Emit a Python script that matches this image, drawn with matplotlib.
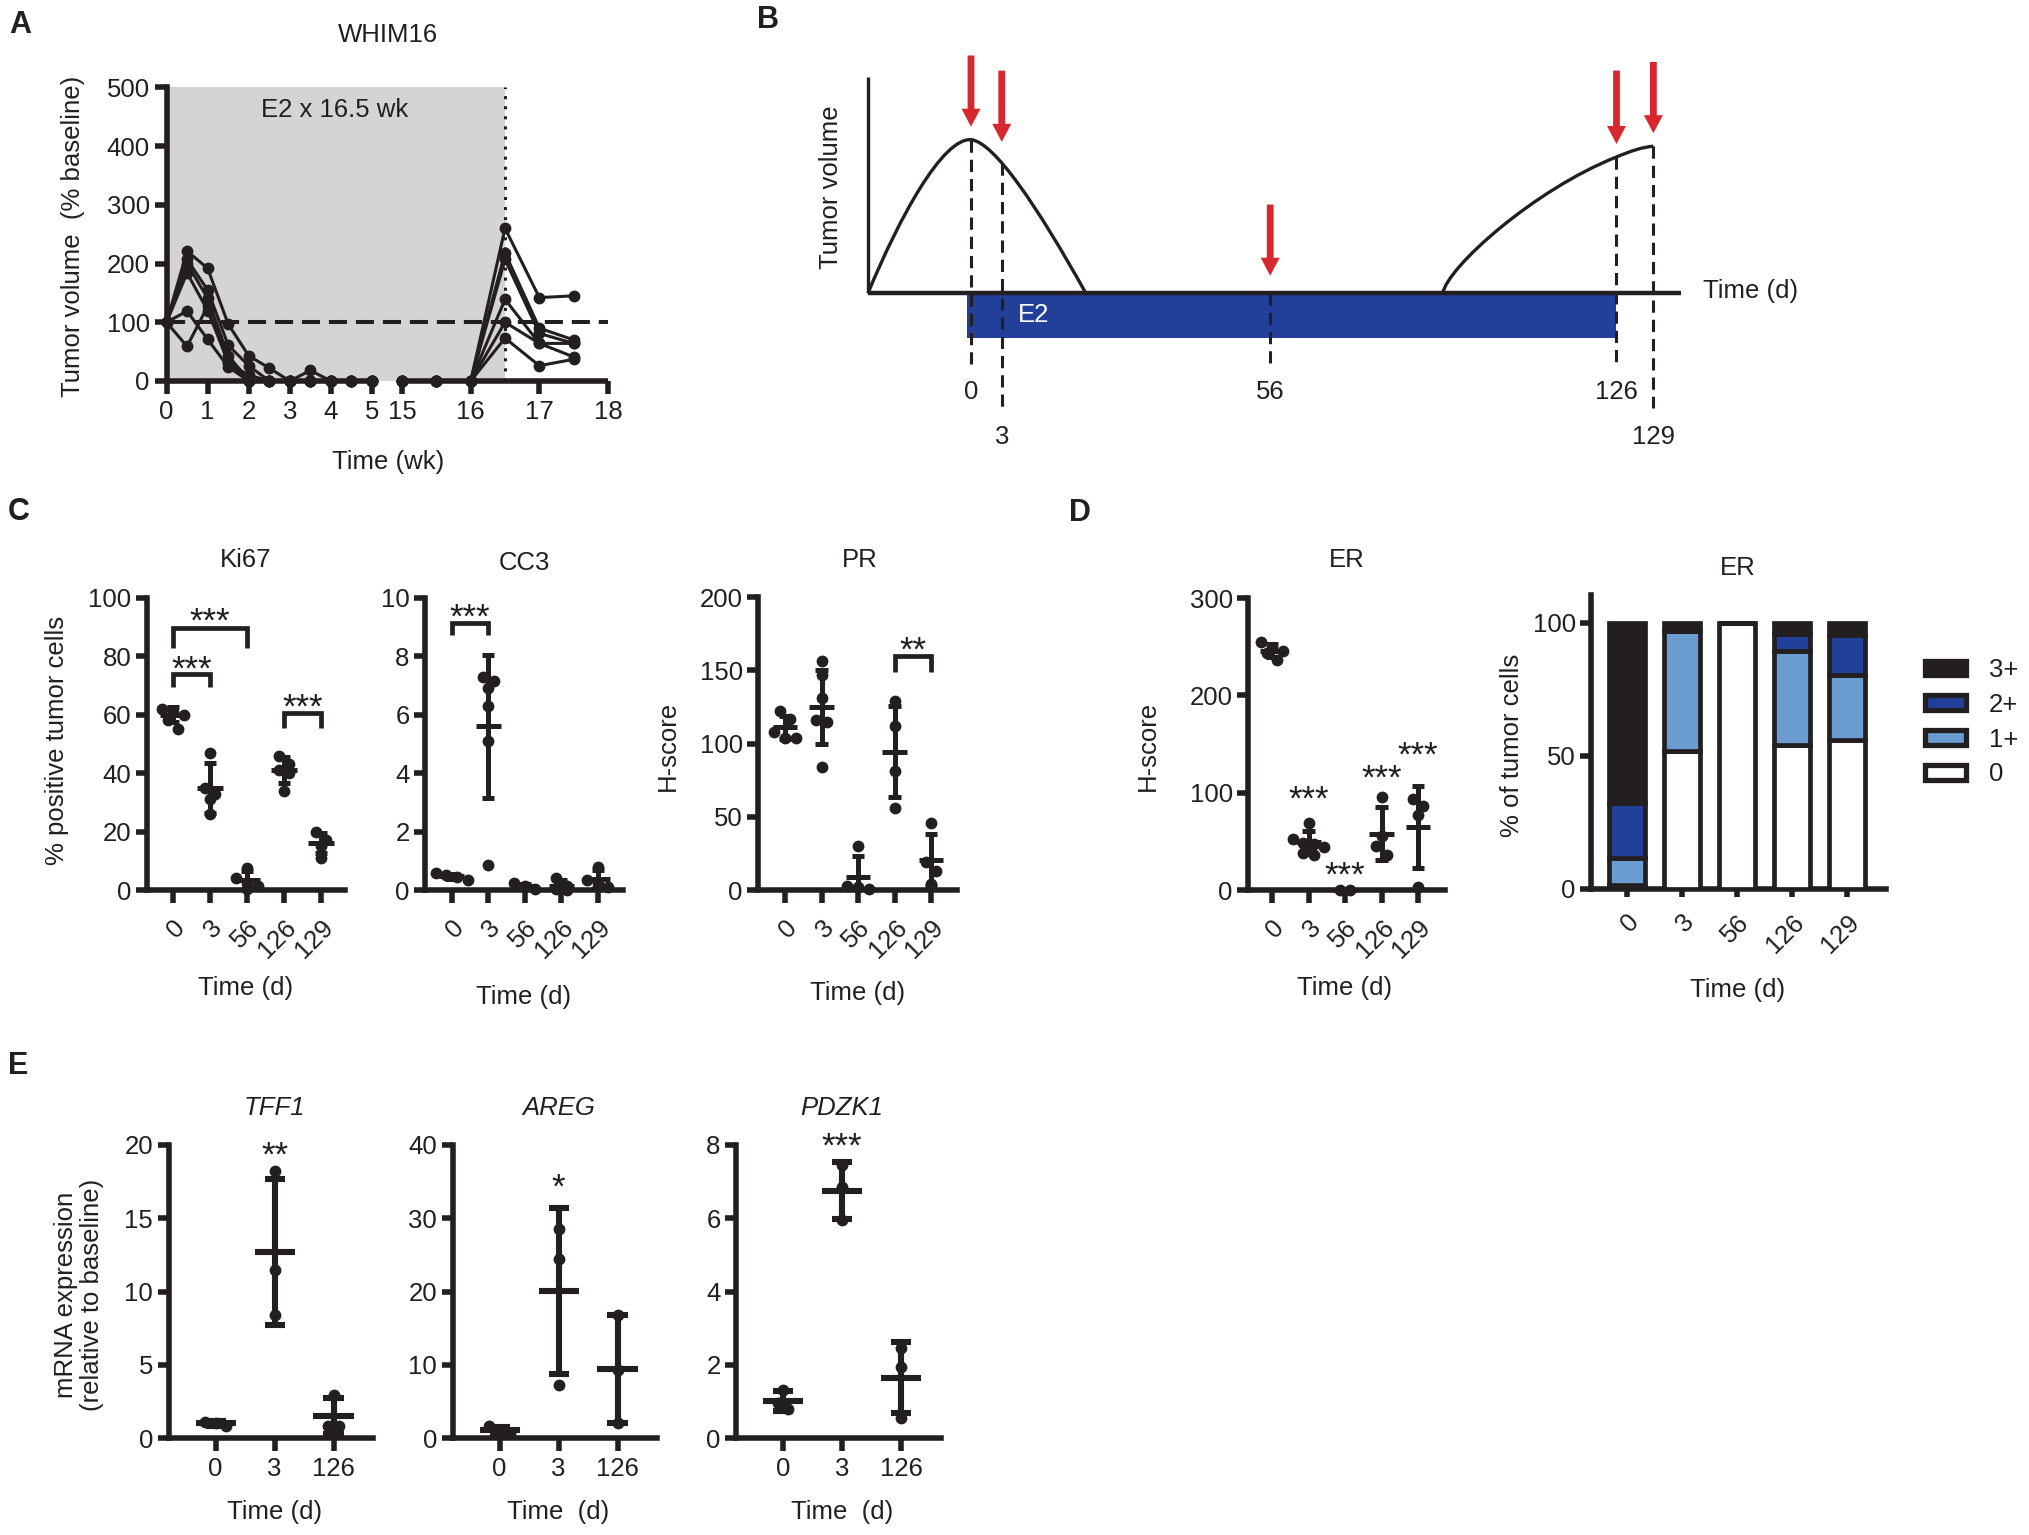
import numpy as np
import matplotlib
matplotlib.use('Agg')
import matplotlib.pyplot as plt
from matplotlib.path import Path
from matplotlib.patches import PathPatch, Patch
from matplotlib.transforms import offset_copy

# ---------------------------------------------------------------- data
# A: tumour volume (% of baseline) for each WHIM16 mouse
a_wk_early = [0, 0.5, 1, 1.5, 2, 2.5, 3, 3.5, 4, 4.5, 5]
a_wk_late = [15, 15.5, 16, 16.5, 17, 17.5]
a_vol_early = [
    [100, 221, 192, 97, 43, 22, 0, 18, 0, 0, 0],
    [100, 207, 155, 61, 26, 0, 0, 0, 0, 0, 0],
    [100, 200, 141, 43, 2, 0, 0, 0, 0, 0, 0],
    [100, 184, 120, 33, 0, 0, 0, 0, 0, 0, 0],
    [100, 119, 71, 24, 0, 0, 0, 0, 0, 0, 0],
    [100, 59, 127, 30, 10, 0, 0, 0, 0, 0, 0],
]
a_vol_late = [
    [0, 0, 0, 260, 142, 145],
    [0, 0, 0, 218, 90, 70],
    [0, 0, 0, 207, 81, 64],
    [0, 0, 0, 139, 64, 41],
    [0, 0, 0, 100, 64, 64],
    [0, 0, 0, 73, 26, 37],
]
a_xticks = [0, 1, 2, 3, 4, 5, 15, 16, 17, 18]

# B: schematic of the biopsy schedule
b_days = [0, 3, 56, 126, 129]
b_pos = [0, 6, 58.4, 126, 133.2]          # place of each biopsy on the drawn time axis
b_row = [0, 1, 0, 0, 1]                   # label row (staggered)
b_line_top = [0.71, 0.60, 0.0, 0.63, 0.68]
b_arrow_top = [1.10, 1.03, 0.41, 1.03, 1.07]
b_arrow_tip = [0.77, 0.70, 0.08, 0.69, 0.74]
b_e2 = (-0.7, 126)
b_hump1 = [(-20.1, 0), (-14, 0.35), (-5.5, 0.72), (0, 0.71), (4.5, 0.70), (13, 0.40), (22.4, 0)]
b_hump2 = [(92.1, 0), (93, 0.12), (110, 0.48), (126, 0.63), (129, 0.66), (131, 0.675), (133.2, 0.68)]

# C / D: IHC scores per tumour
days = ['0', '3', '56', '126', '129']
ki67_pts = [[62, 61, 60, 58, 55], [47, 35, 33, 31, 26], [7.5, 4, 2.5, 1.5, 0.5],
            [46, 43, 41, 40, 34], [20, 17, 15, 11]]
ki67_mean = [60, 35, 3.5, 41, 16]
ki67_sd = [2.5, 8.5, 3, 4.5, 3.5]
ki67_brackets = [(0, 1, 73.9, 69.3, 77.3, '***'), (0, 2, 89.7, 82.9, 93.7, '***'),
                 (3, 4, 60.4, 55.3, 64.4, '***')]

cc3_pts = [[0.57, 0.5, 0.45, 0.35], [7.3, 7.15, 6.9, 6.3, 5.1, 0.85], [0.23, 0.12, 0.05],
           [0.4, 0.15, 0.05, 0.0], [0.8, 0.35, 0.25, 0.1]]
cc3_mean = [0.47, 5.6, 0.13, 0.15, 0.38]
cc3_sd = [0.09, 2.45, 0.09, 0.18, 0.3]
cc3_brackets = [(0, 1, 9.12, 8.72, 9.52, '***')]

pr_pts = [[122, 117, 108, 104, 104], [156, 147, 131, 116, 115, 84], [30, 3, 2, 1],
          [129, 112, 81, 56], [46, 19, 13, 4]]
pr_mean = [111, 125, 9, 94.5, 20.5]
pr_sd = [8, 25, 14, 31, 18]
pr_brackets = [(3, 4, 159.5, 149, 167.5, '**')]

er_pts = [[255, 249, 246, 244, 236], [69, 52, 48, 47, 44, 38, 36], [0, 0],
          [96, 55, 45, 36], [94, 86, 77, 3]]
er_mean = [246, 49, 0, 58, 65]
er_sd = [7, 12, 0, 27, 42]
er_stars = [(1, 99, '***'), (2, 20.5, '***'), (3, 120, '***'), (4, 144, '***')]

er_levels = ['0', '1+', '2+', '3+']
er_pct = {'0': [1.5, 52, 100, 54, 56],
          '1+': [10, 45, 0, 35.5, 24.5],
          '2+': [21, 0, 0, 6.5, 15],
          '3+': [67.5, 3, 0, 4, 4.5]}

# E: qPCR, relative to baseline
e_days = ['0', '3', '126']
tff1_pts = [[0.8, 1.1, 1.05], [18.2, 11.5, 8.4], [2.95, 0.8, 0.8]]
tff1_mean = [1.0, 12.7, 1.5]
tff1_sd = [0.15, 5.0, 1.2]
areg_pts = [[0.7, 1.6, 1.1], [28.6, 24.5, 7.3], [16.8, 9.3, 2.0]]
areg_mean = [1.1, 20.1, 9.4]
areg_sd = [0.45, 11.3, 7.4]
pdzk1_pts = [[1.32, 0.95, 0.78], [7.45, 6.85, 5.95], [2.45, 1.95, 0.55]]
pdzk1_mean = [1.02, 6.75, 1.65]
pdzk1_sd = [0.27, 0.78, 0.98]

# ---------------------------------------------------------------- style
W, H, DPI = 2029, 1535, 100
INK = '#231f20'
RED = '#d7282f'
BLUE = '#22409a'
LIGHT = '#6a9bd1'
FS = 18.5
STAR_FS = 25
SPINE = 4.0

plt.rcParams['font.family'] = ['Liberation Sans', 'DejaVu Sans']
plt.rcParams.update({'font.size': FS, 'text.color': INK, 'axes.edgecolor': INK,
                     'xtick.color': INK, 'ytick.color': INK, 'axes.linewidth': SPINE})

fig = plt.figure(figsize=(W / DPI, H / DPI), dpi=DPI)


def px_axes(x0, y0, x1, y1):
    return fig.add_axes([x0 / W, 1 - y1 / H, (x1 - x0) / W, (y1 - y0) / H])


def px_text(x, y, s, **kw):
    kw.setdefault('ha', 'center')
    kw.setdefault('va', 'center')
    kw.setdefault('fontsize', FS)
    fig.text(x / W, 1 - y / H, s, **kw)


def prism_axes(box, xlim, ylim, yticks, xlabels, rotate=True, xlen=9):
    ax = px_axes(*box)
    ax.set_xlim(xlim)
    ax.set_ylim(ylim)
    ax.spines[['top', 'right']].set_visible(False)
    ax.set_yticks(yticks)
    ax.set_xticks(range(len(xlabels)))
    ax.tick_params(axis='y', direction='out', length=8, width=SPINE, pad=3, labelsize=FS)
    ax.tick_params(axis='x', direction='out', length=xlen, width=SPINE, labelsize=FS,
                   pad=9 if rotate else 5)
    if rotate:
        ax.set_xticklabels(xlabels, rotation=45, ha='right', va='top', rotation_mode='anchor')
    else:
        ax.set_xticklabels(xlabels)
    return ax


def swarm(ax, pts, ms=8.5):
    d = ms * DPI / 72
    T = ax.transData
    for i, vals in enumerate(pts):
        rows = []
        for v in sorted(vals, reverse=True):
            py = T.transform((i, v))[1]
            if rows and abs(rows[-1][0] - py) < 0.8 * d:
                rows[-1][1].append(v)
            else:
                rows.append([py, [v]])
        for _, row in rows:
            n = len(row)
            for k, v in enumerate(row):
                xp = T.transform((i, v))[0] + (k - (n - 1) / 2) * 0.9 * d
                x = T.inverted().transform((xp, 0))[0]
                ax.plot(x, v, 'o', ms=ms, color=INK, mec='none', clip_on=False, zorder=4)


def mean_sd(ax, means, sds, lw=3.6, mean_hw=0.34, cap_hw=0.17):
    y0 = ax.get_ylim()[0]
    kw = dict(color=INK, lw=lw, solid_capstyle='butt', clip_on=False, zorder=5)
    for i, (m, s) in enumerate(zip(means, sds)):
        ax.plot([i - mean_hw, i + mean_hw], [m, m], **kw)
        if s <= 0:
            continue
        ax.plot([i, i], [max(m - s, y0), m + s], **kw)
        for y in (m - s, m + s):
            if y >= y0:
                ax.plot([i - cap_hw, i + cap_hw], [y, y], **kw)


def stars(ax, x, y, s):
    # asterisks sit high in the em box: shift the baseline so the glyphs centre on y
    tr = offset_copy(ax.transData, fig=fig, y=-0.45 * STAR_FS * DPI / 72, units='dots')
    ax.text(x, y, s, transform=tr, ha='center', va='baseline', fontsize=STAR_FS, clip_on=False)


def brackets(ax, items):
    for x0, x1, y, leg, ys, s in items:
        ax.plot([x0, x0, x1, x1], [leg, y, y, leg], color=INK, lw=3.4, clip_on=False,
                solid_joinstyle='miter', solid_capstyle='butt')
        stars(ax, (x0 + x1) / 2, ys, s)


# ---------------------------------------------------------------- A
A_GAP, A_RATIO = 0.73, 1.67


def a_fwd(x):
    x = np.asarray(x, float)
    return np.where(x <= 5, x, np.where(x >= 15, 5 + A_GAP + (x - 15) * A_RATIO,
                                        5 + (x - 5) * A_GAP / 10))


def a_inv(p):
    p = np.asarray(p, float)
    return np.where(p <= 5, p, np.where(p >= 5 + A_GAP, 15 + (p - 5 - A_GAP) / A_RATIO,
                                        5 + (p - 5) * 10 / A_GAP))


ax = px_axes(166.5, 87.3, 608, 381)
ax.set_xscale('function', functions=(a_fwd, a_inv))
ax.set_xlim(0, 18)
ax.set_ylim(0, 500)
ax.axvspan(0, 16.5, color='#d4d4d4', lw=0, zorder=0)
ax.axhline(100, color=INK, lw=2.9, ls=(0, (4.5, 2.2)), zorder=2)
ax.axvline(16.5, color=INK, lw=2.2, ls=(0, (1, 2.3)), zorder=2)
for early, late in zip(a_vol_early, a_vol_late):
    ax.plot(a_wk_early, early, '-o', color=INK, lw=2.2, ms=7.5, clip_on=False, zorder=3)
    ax.plot(a_wk_late, late, '-o', color=INK, lw=2.2, ms=7.5, clip_on=False, zorder=3)
ax.spines[['top', 'right', 'bottom']].set_visible(False)
ax.plot([0, 5.1], [0, 0], color=INK, lw=SPINE, clip_on=False, solid_capstyle='butt', zorder=2)
ax.plot([14.5, 18], [0, 0], color=INK, lw=SPINE, clip_on=False, solid_capstyle='butt', zorder=2)
ax.set_xticks(a_xticks)
ax.set_xticklabels([str(t) for t in a_xticks])
ax.set_yticks([0, 100, 200, 300, 400, 500])
ax.tick_params(axis='x', direction='out', length=9, width=SPINE, pad=5, labelsize=FS)
ax.tick_params(axis='y', direction='out', length=9, width=SPINE, pad=3, labelsize=FS)
px_text(335, 110, 'E2 x 16.5 wk')
px_text(388, 35, 'WHIM16')
px_text(388, 462, 'Time (wk)')
px_text(73, 236, 'Tumor volume  (% baseline)', rotation=90)
px_text(20, 25, 'A', fontsize=22, fontweight='bold')

# ---------------------------------------------------------------- B
ax = px_axes(800, 30, 1800, 460)
ax.set_xlim(-33.38, 161.82)
ax.set_ylim(-0.773, 1.218)
ax.axis('off')
ax.broken_barh([(b_e2[0], b_e2[1] - b_e2[0])], (-0.208, 0.199), facecolors=BLUE, zorder=1)
ax.text(12.3, -0.10, 'E2', color='white', ha='center', va='center', fontsize=FS, zorder=3)
ax.plot([-20.1, -20.1], [0, 1], color=INK, lw=2.4, solid_capstyle='butt')
ax.plot([-20.1, 138.6], [0, 0], color=INK, lw=3.2, solid_capstyle='butt', zorder=2)
codes = [Path.MOVETO] + [Path.CURVE4] * 6
for hump in (b_hump1, b_hump2):
    ax.add_patch(PathPatch(Path(hump, codes), fill=False, ec=INK, lw=2.4, zorder=2))
for x, top, row in zip(b_pos, b_line_top, b_row):
    ax.plot([x, x], [top, -0.343 if row == 0 else -0.53], color=INK, lw=2.2,
            ls=(0, (4, 2.3)), zorder=2)
for x, d, row in zip(b_pos, b_days, b_row):
    ax.text(x, -0.46 if row == 0 else -0.667, str(d), ha='center', va='center', fontsize=FS)
for x, y0, y1 in zip(b_pos, b_arrow_top, b_arrow_tip):
    ax.annotate('', xy=(x, y1), xytext=(x, y0),
                arrowprops=dict(arrowstyle='simple,head_length=1.3,head_width=1.37,tail_width=0.49',
                                mutation_scale=10, color=RED, shrinkA=0, shrinkB=0, lw=0))
ax.text(142.9, 0.01, 'Time (d)', ha='left', va='center', fontsize=FS)
px_text(831, 187, 'Tumor volume', rotation=90)
px_text(768, 20, 'B', fontsize=22, fontweight='bold')

# ---------------------------------------------------------------- C
ax = prism_axes((146.5, 597.7, 345, 890), (-0.716, 4.65), (0, 100), [0, 20, 40, 60, 80, 100], days)
swarm(ax, ki67_pts)
mean_sd(ax, ki67_mean, ki67_sd)
brackets(ax, ki67_brackets)
px_text(246, 560, 'Ki67')
px_text(246, 988, 'Time (d)')
px_text(57, 740, '% positive tumor cells', rotation=90)

ax = prism_axes((425, 597.7, 623, 890), (-0.73, 4.69), (0, 10), [0, 2, 4, 6, 8, 10], days)
swarm(ax, cc3_pts)
mean_sd(ax, cc3_mean, cc3_sd)
brackets(ax, cc3_brackets)
px_text(524, 563, 'CC3')
px_text(524, 997, 'Time (d)')

ax = prism_axes((758, 597, 957, 890), (-0.74, 4.71), (0, 200), [0, 50, 100, 150, 200], days)
swarm(ax, pr_pts)
mean_sd(ax, pr_mean, pr_sd)
brackets(ax, pr_brackets)
px_text(860, 560, 'PR')
px_text(858, 993, 'Time (d)')
px_text(668, 746, 'H-score', rotation=90)
px_text(19, 512, 'C', fontsize=22, fontweight='bold')

# ---------------------------------------------------------------- D
ax = prism_axes((1248, 598, 1445, 890), (-0.66, 4.74), (0, 300), [0, 100, 200, 300], days)
swarm(ax, er_pts)
mean_sd(ax, er_mean, er_sd)
for x, y, s in er_stars:
    stars(ax, x, y, s)
px_text(1347, 560, 'ER')
px_text(1345, 988, 'Time (d)')
px_text(1148, 746, 'H-score', rotation=90)
px_text(1080, 513, 'D', fontsize=22, fontweight='bold')

ax = prism_axes((1591, 595, 1886, 889), (-0.655, 4.71), (0, 110.5), [0, 50, 100], days, xlen=6)
colors = {'0': 'white', '1+': LIGHT, '2+': BLUE, '3+': INK}
bottom = np.zeros(len(days))
for lvl in er_levels:
    vals = np.array(er_pct[lvl], float)
    ax.bar(range(len(days)), vals, 0.65, bottom=bottom, color=colors[lvl], edgecolor=INK,
           lw=3.4, zorder=3)
    bottom += vals
handles = [Patch(facecolor=colors[l], edgecolor=INK, lw=3.8, label=l) for l in er_levels[::-1]]
ax.legend(handles=handles, loc='upper left', bbox_to_anchor=(1925 / W, 1 - 658 / H),
          bbox_transform=fig.transFigure, frameon=False, handlelength=1.6, handleheight=0.5,
          handletextpad=0.9, labelspacing=0.42, borderpad=0, borderaxespad=0, fontsize=FS)
px_text(1738, 568, 'ER')
px_text(1738, 990, 'Time (d)')
px_text(1512, 745, '% of tumor cells', rotation=90)

# ---------------------------------------------------------------- E
e_panels = [
    ((168.5, 1145, 373, 1438), [0, 5, 10, 15, 20], tff1_pts, tff1_mean, tff1_sd, 'TFF1', 19.66, '**', 'Time (d)'),
    ((452.5, 1145, 657, 1438), [0, 10, 20, 30, 40], areg_pts, areg_mean, areg_sd, 'AREG', 35, '*', 'Time  (d)'),
    ((736, 1145, 940.5, 1438), [0, 2, 4, 6, 8], pdzk1_pts, pdzk1_mean, pdzk1_sd, 'PDZK1', 8.1, '***', 'Time  (d)'),
]
for box, yt, pts, mu, sd, gene, ys, s, xl in e_panels:
    ax = prism_axes(box, (-0.8, 2.67), (0, yt[-1]), yt, e_days, rotate=False)
    swarm(ax, pts)
    mean_sd(ax, mu, sd, lw=4.4)
    stars(ax, 1, ys, s)
    cx = box[0] + (0.8 + 1) * (box[2] - box[0]) / 3.47
    px_text(cx, 1108, gene, style='italic')
    px_text(cx, 1512, xl)
px_text(79, 1295, 'mRNA expression\n(relative to baseline)', rotation=90, linespacing=1.1)
px_text(18, 1066, 'E', fontsize=22, fontweight='bold')

fig.savefig('out.png', dpi=DPI)
